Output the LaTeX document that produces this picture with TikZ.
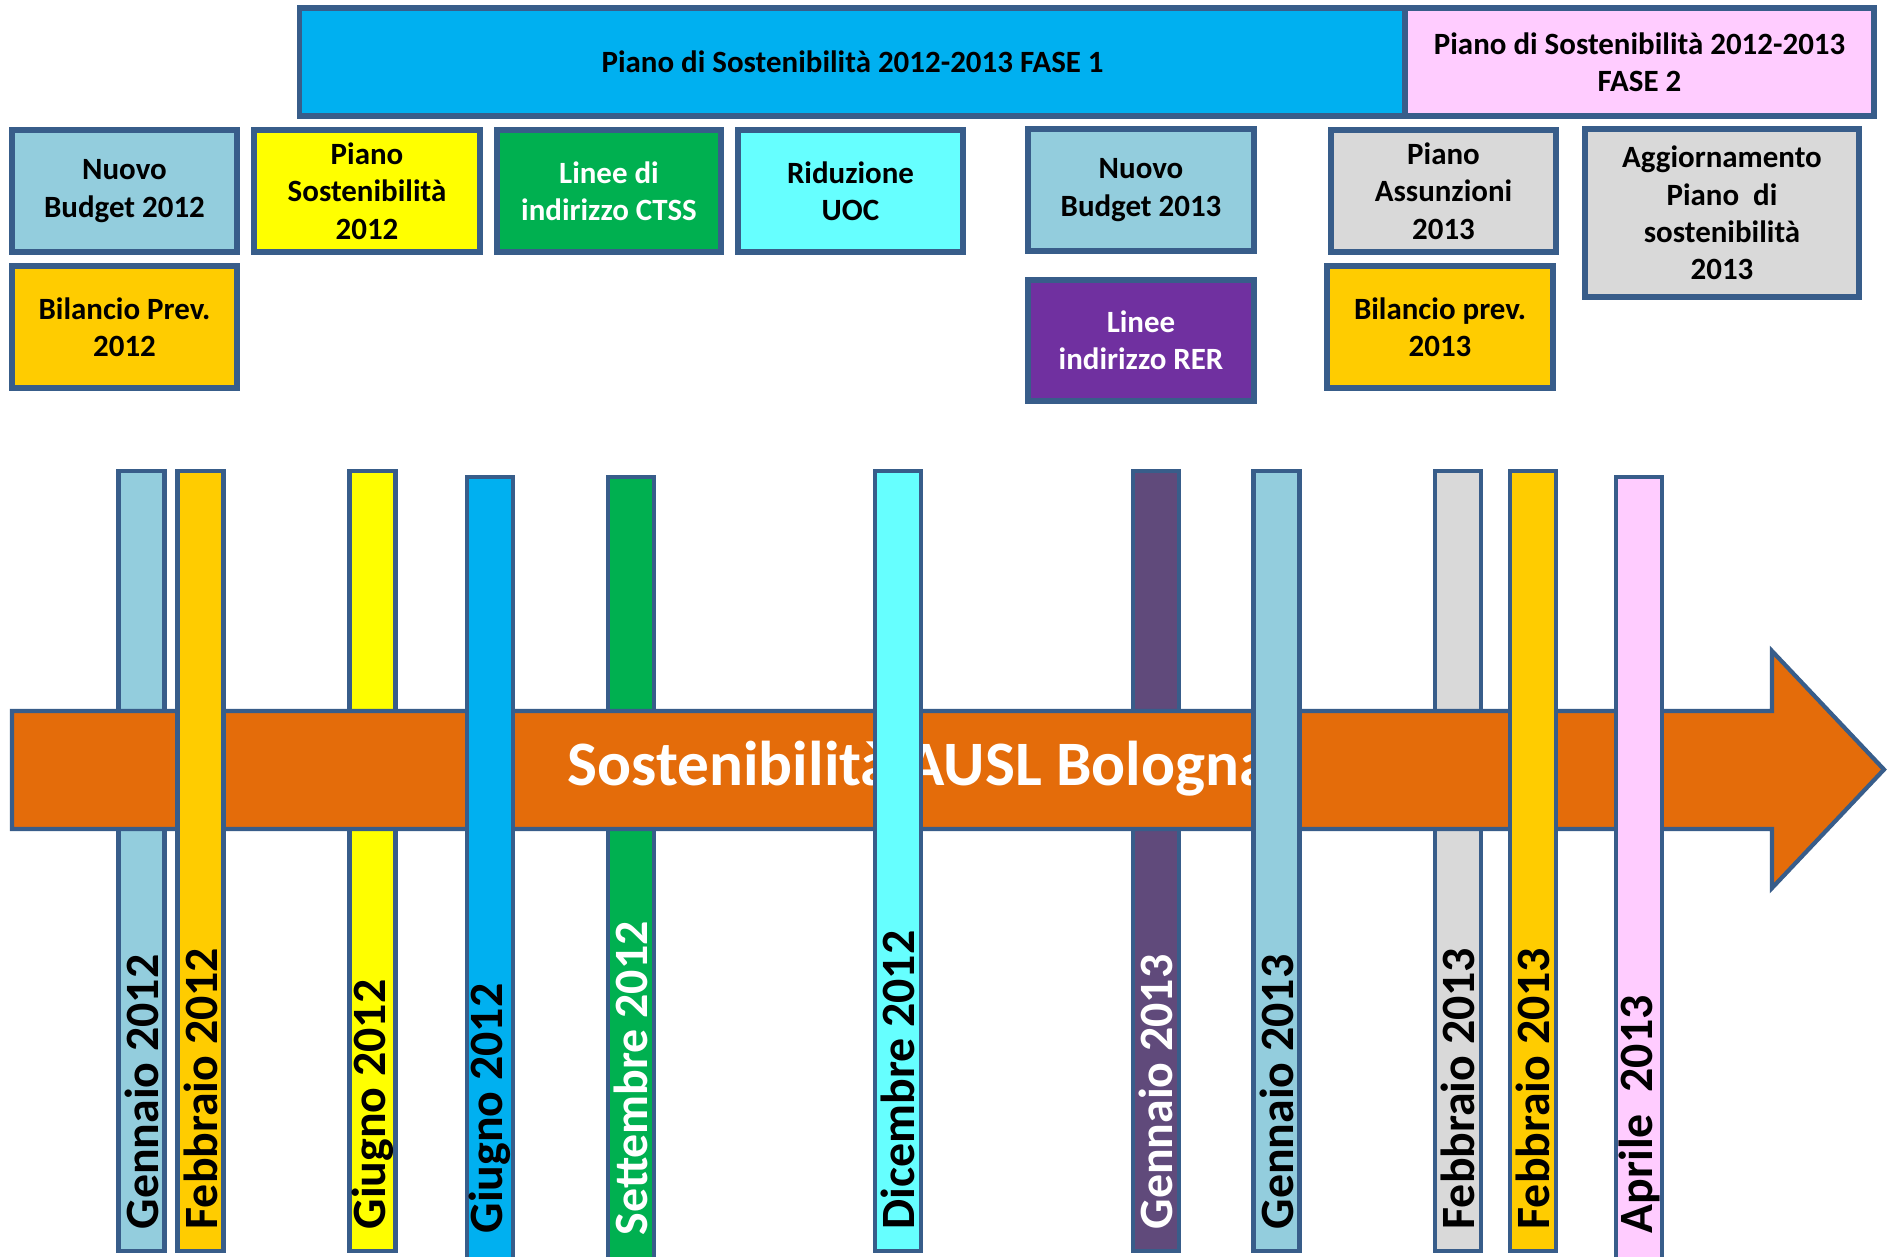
\documentclass[tikz,border=0pt]{standalone}
\usepackage{fontspec}
\setmainfont{Carlito}
\definecolor{edgeblue}{HTML}{385D8A}
\definecolor{skyblue}{HTML}{93CDDD}
\definecolor{gold}{HTML}{FFCC00}
\definecolor{lemon}{HTML}{FFFF00}
\definecolor{leaf}{HTML}{00B050}
\definecolor{aqua}{HTML}{66FFFF}
\definecolor{azure}{HTML}{00B0F0}
\definecolor{violet}{HTML}{7030A0}
\definecolor{plum}{HTML}{604A7B}
\definecolor{silver}{HTML}{D9D9D9}
\definecolor{rose}{HTML}{FFCCFF}
\definecolor{pumpkin}{HTML}{E46C0A}
\tikzset{
box/.style={ % Sets the properties for each box
draw=edgeblue,
line width=1.6pt,
align=center,
inner sep=0pt,
minimum width=2.25cm,
minimum height=1.22cm,
font=\bfseries\fontsize{8.8}{10.6}\selectfont},
bar/.style={ % Sets the properties for each month bar
draw=edgeblue,
line width=1.2pt,
inner sep=0pt,
minimum width=0.46cm,
minimum height=7.8cm},
month/.style={ % Month written upwards along its bar
rotate=90,
anchor=west,
inner sep=0pt,
font=\bfseries\fontsize{13.6}{16}\selectfont}}

\begin{document}
\begin{tikzpicture}[x=0.01cm, y=-0.01cm]
\useasboundingbox (0,0) rectangle (1890,1256);
% top row
\node[box, fill=azure, minimum width=11.05cm, minimum height=1.08cm] (fase1) at (852.5,62) {Piano di Sostenibilità 2012-2013 FASE 1};
\node[box, fill=rose, minimum width=4.69cm, minimum height=1.08cm] (fase2) at (1639.5,62) {Piano di Sostenibilità 2012-2013\\FASE 2};
\node[box, fill=skyblue] (nb12) at (124.5,191) {Nuovo\\Budget 2012};
\node[box, fill=lemon, minimum width=2.26cm] (ps12) at (367,191) {Piano\\Sostenibilità\\2012};
\node[box, fill=leaf, text=white, minimum width=2.24cm] (ctss) at (609,191) {Linee di\\indirizzo CTSS};
\node[box, fill=aqua] (uoc) at (850.5,191) {Riduzione\\UOC};
\node[box, fill=skyblue, minimum width=2.26cm] (nb13) at (1141,190) {Nuovo\\Budget 2013};
\node[box, fill=silver] (pa13) at (1443.5,191) {Piano\\Assunzioni\\2013};
\node[box, fill=silver, minimum width=2.74cm, minimum height=1.68cm] (agg13) at (1722,213) {Aggiornamento\\Piano~~di\\sostenibilità\\2013};
\node[box, fill=gold] (bp12) at (124.5,327) {Bilancio Prev.\\2012};
\node[box, fill=violet, text=white, minimum width=2.26cm, minimum height=1.21cm] (rer) at (1141,340.5) {Linee\\indirizzo RER};
\node[box, fill=gold, minimum width=2.26cm] (bp13) at (1440,327) {Bilancio prev.\\2013};
% bars behind the arrow
\node[bar, fill=skyblue] (gen12) at (141.5,861) {};
\node[bar, fill=lemon] (giu12a) at (372.5,861) {};
\node[bar, fill=leaf, minimum height=7.85cm] (set12) at (631,869.5) {};
\node[bar, fill=plum] (gen13a) at (1156,861) {};
\node[bar, fill=silver] (feb13a) at (1458,861) {};
% timeline arrow
\draw[draw=edgeblue, line width=1.2pt, fill=pumpkin] (12,711) -- (1772,711) -- (1772,651) -- (1884,769.5) -- (1772,888) -- (1772,829) -- (12,829) -- cycle;
\node[text=white, font=\bfseries\fontsize{18}{20}\selectfont] (title) at (919,769) {Sostenibilità AUSL Bologna};
% bars in front of the arrow
\node[bar, fill=gold] (feb12) at (200.5,861) {};
\node[bar, fill=azure, minimum height=7.85cm] (giu12b) at (490,869.5) {};
\node[bar, fill=aqua] (dic12) at (898,861) {};
\node[bar, fill=skyblue] (gen13b) at (1276.5,861) {};
\node[bar, fill=gold] (feb13b) at (1533,861) {};
\node[bar, fill=rose, minimum height=7.85cm] (apr13) at (1639,869.5) {};
% month labels
\node[month] (lgen12) at (141.5,1230) {Gennaio 2012};
\node[month] (lfeb12) at (200.5,1230) {Febbraio 2012};
\node[month] (lgiu12a) at (372.5,1230) {Giugno 2012};
\node[month] (lgiu12b) at (490,1234) {Giugno 2012};
\node[month, text=white] (lset12) at (631,1236) {Settembre 2012};
\node[month] (ldic12) at (898,1230) {Dicembre 2012};
\node[month, text=white] (lgen13a) at (1156,1230) {Gennaio 2013};
\node[month] (lgen13b) at (1276.5,1230) {Gennaio 2013};
\node[month] (lfeb13a) at (1458,1230) {Febbraio 2013};
\node[month] (lfeb13b) at (1533,1230) {Febbraio 2013};
\node[month] (lapr13) at (1639,1234) {Aprile~~2013};
\end{tikzpicture}
\end{document}
